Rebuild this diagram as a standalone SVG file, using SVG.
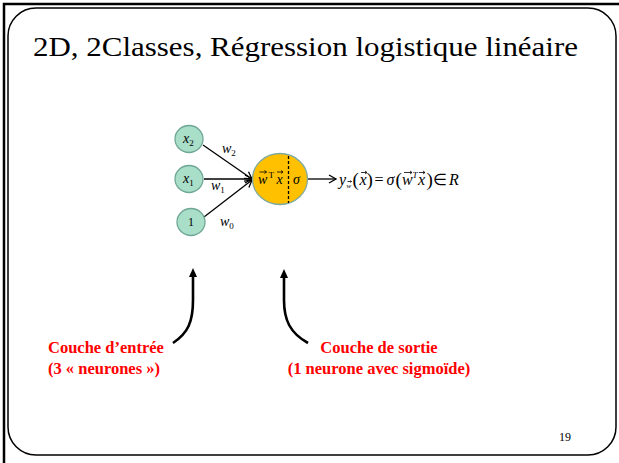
<svg xmlns="http://www.w3.org/2000/svg" width="619" height="463" viewBox="0 0 619 463">
<style>
.it{font-style:italic}
.in{fill:#a9dec8;stroke:#6fa696;stroke-width:1.3}
.edge{stroke:#000;stroke-width:1.3;fill:none;marker-end:url(#oa)}
.curve{stroke:#000;stroke-width:2.6;fill:none;marker-end:url(#ca)}
.vec{stroke:#000;stroke-width:0.8;fill:none}
</style>
<defs>
<marker id="oa" markerWidth="10" markerHeight="10" refX="8" refY="5" orient="auto" markerUnits="userSpaceOnUse">
<path d="M1,1 L8,5 L1,9" fill="none" stroke="#000" stroke-width="1.3"/>
</marker>
<marker id="ca" markerWidth="10" markerHeight="10" refX="5" refY="5" orient="auto" markerUnits="userSpaceOnUse">
<path d="M0,1 L9,5 L0,9 Z" fill="#000"/>
</marker>
</defs>
<rect x="0" y="0" width="619" height="463" fill="#fff"/>
<path d="M4,463 V4 H619" fill="none" stroke="#000" stroke-width="2.5"/>
<rect x="8" y="8" width="608" height="447" rx="28" ry="28" fill="none" stroke="#000" stroke-width="1.5"/>

<g font-family="Liberation Serif" fill="#000">
<text x="33" y="56" font-size="28" textLength="545" lengthAdjust="spacingAndGlyphs">2D, 2Classes, Régression logistique linéaire</text>

<g id="connectors">
<line class="edge" x1="203" y1="145" x2="252" y2="179"/>
<line class="edge" x1="204" y1="179" x2="252" y2="179"/>
<line class="edge" x1="204" y1="217" x2="252" y2="180"/>
<line class="edge" x1="307" y1="179" x2="336" y2="179"/>
<path class="curve" d="M173,343 C188,333 193,322 193,300 L193,272"/>
<path class="curve" d="M308,343 C290,333 284,320 284,300 L284,273"/>
</g>

<g id="node-x2">
<ellipse class="in" cx="189" cy="139" rx="14" ry="13.5"/>
<text class="it" x="183" y="143" font-size="14">x<tspan font-size="9" font-style="normal" dy="3">2</tspan></text>
</g>
<g id="node-x1">
<ellipse class="in" cx="189" cy="179" rx="14" ry="13.5"/>
<text class="it" x="183" y="183" font-size="14">x<tspan font-size="9" font-style="normal" dy="3">1</tspan></text>
</g>
<g id="node-1">
<ellipse class="in" cx="191" cy="222" rx="14" ry="13.5"/>
<text x="191" y="226" font-size="12" text-anchor="middle">1</text>
</g>
<g id="w-labels">
<text class="it" x="222" y="153" font-size="14">w<tspan font-size="9" font-style="normal" dy="3">2</tspan></text>
<text class="it" x="211" y="190" font-size="14">w<tspan font-size="9" font-style="normal" dy="3">1</tspan></text>
<text class="it" x="220" y="226" font-size="14">w<tspan font-size="9" font-style="normal" dy="3">0</tspan></text>
</g>
<g id="node-out">
<ellipse cx="280" cy="179" rx="27.5" ry="25.5" fill="#ffc000" stroke="#7fa9a0" stroke-width="1.3"/>
<line x1="288.5" y1="156" x2="288.5" y2="203" stroke="#000" stroke-width="1.3" stroke-dasharray="3,2"/>
<text font-size="14"><tspan class="it" x="258" y="184">w</tspan><tspan font-size="9" x="268.5" y="178">T</tspan><tspan class="it" x="276.5" y="184">x</tspan></text>
<path class="vec" d="M259.5,172 h7 M264.5,170.5 l2,1.5 l-2,1.5 M277,172 h6 M281,170.5 l2,1.5 l-2,1.5"/>
<text class="it" x="293" y="184" font-size="14">σ</text>
</g>
<g id="formula" font-size="16">
<text class="it" x="339" y="185">y</text>
<text class="it" x="346.5" y="188" font-size="7">w</text>
<text x="352.5" y="186" font-size="19">(</text>
<text class="it" x="359.5" y="185">x</text>
<text x="366.5" y="186" font-size="19">)</text>
<text x="374.5" y="185">=</text>
<text class="it" x="386.5" y="185">σ</text>
<text x="395.5" y="186" font-size="19">(</text>
<text class="it" x="402" y="185">w</text>
<text class="it" x="412.5" y="178" font-size="9">T</text>
<text class="it" x="418" y="185">x</text>
<text x="426.5" y="186" font-size="19">)</text>
<text x="433" y="185">∈</text>
<text class="it" x="449" y="185">R</text>
<path class="vec" d="M347.5,181.5 h4 M350.5,180.5 l1,1 l-1,1 M361,172.5 h6 M365,171 l2,1.5 l-2,1.5 M404,172.5 h8 M410,171 l2,1.5 l-2,1.5 M419,172.5 h6 M423,171 l2,1.5 l-2,1.5"/>
</g>

<g id="label-in" font-weight="bold" font-size="16.5" fill="#ff0000">
<text x="48" y="353">Couche d’entrée</text>
<text x="48" y="374">(3 « neurones »)</text>
</g>
<g id="label-out" font-weight="bold" font-size="16.5" fill="#ff0000" text-anchor="middle">
<text x="379" y="353">Couche de sortie</text>
<text x="379" y="374">(1 neurone avec sigmoïde)</text>
</g>
<text x="559" y="441" font-size="12">19</text>
</g>
</svg>
